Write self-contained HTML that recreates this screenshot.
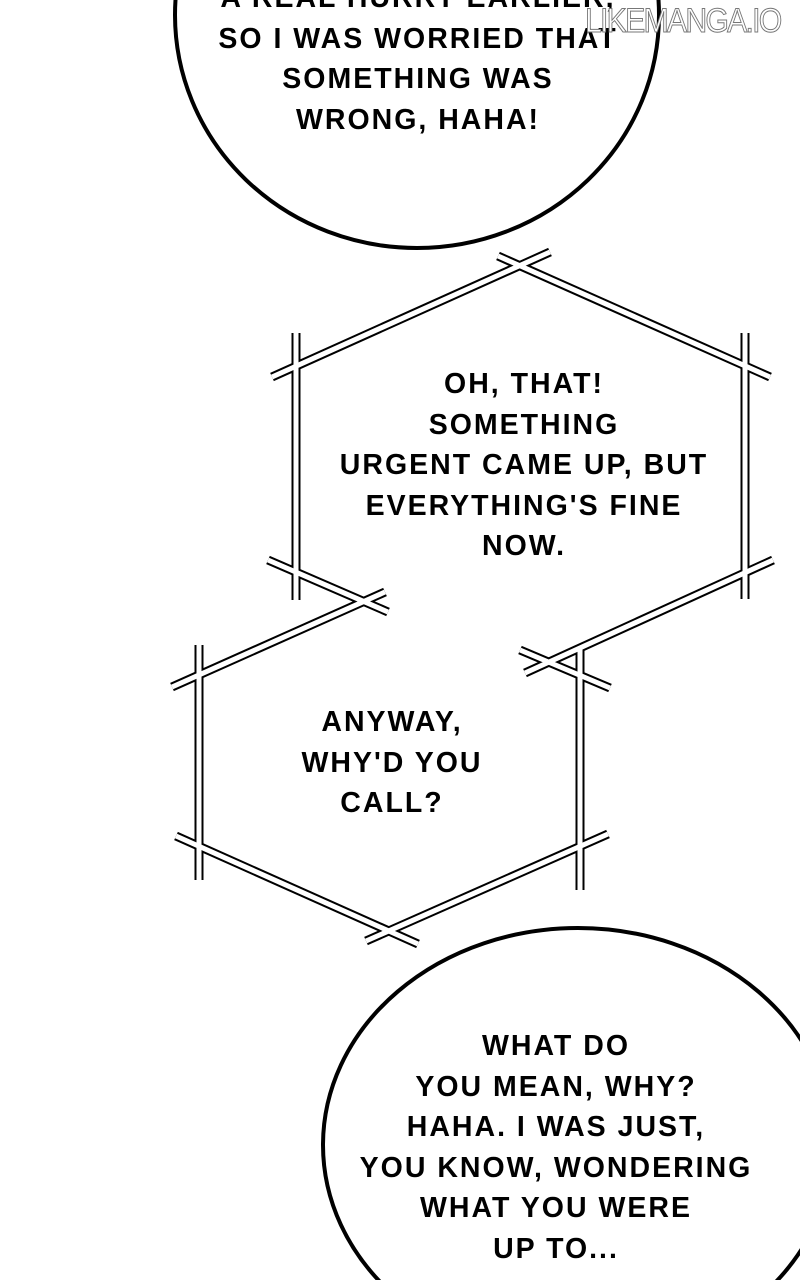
<!DOCTYPE html>
<html><head><style>
html,body{margin:0;width:800px;height:1280px;overflow:hidden}
body{background:#fff;position:relative;font-family:"Liberation Sans",sans-serif}
.t{position:absolute;text-align:center;font-weight:bold;font-size:28.5px;line-height:40.5px;letter-spacing:2px;color:#000;white-space:nowrap;transform:translateX(-50%)}
</style></head><body>
<svg width="800" height="1280" style="position:absolute;left:0;top:0">
<ellipse cx="417" cy="15" rx="242" ry="233" fill="#fff" stroke="#000" stroke-width="4"/>
<ellipse cx="578" cy="1145" rx="255" ry="217" fill="#fff" stroke="#000" stroke-width="4"/>
<g stroke-linecap="butt" fill="none">
<g stroke="#000" stroke-width="9">
<line x1="272" y1="377" x2="550" y2="252"/><line x1="498" y1="256" x2="770" y2="377"/>
<line x1="296" y1="333" x2="296" y2="600"/><line x1="745" y1="333" x2="745" y2="599"/>
<line x1="268" y1="560" x2="388" y2="612"/><line x1="773" y1="560" x2="525" y2="673"/>
<line x1="172" y1="687" x2="385" y2="592"/><line x1="520" y1="650" x2="610" y2="688"/>
<line x1="199" y1="645" x2="199" y2="880"/><line x1="580" y1="648" x2="580" y2="890"/>
<line x1="176" y1="836" x2="418" y2="944"/><line x1="608" y1="834" x2="366" y2="941"/>
</g>
<g stroke="#fff" stroke-width="5">
<line x1="272" y1="377" x2="550" y2="252"/><line x1="498" y1="256" x2="770" y2="377"/>
<line x1="296" y1="333" x2="296" y2="600"/><line x1="745" y1="333" x2="745" y2="599"/>
<line x1="268" y1="560" x2="388" y2="612"/><line x1="773" y1="560" x2="525" y2="673"/>
<line x1="172" y1="687" x2="385" y2="592"/><line x1="520" y1="650" x2="610" y2="688"/>
<line x1="199" y1="645" x2="199" y2="880"/><line x1="580" y1="648" x2="580" y2="890"/>
<line x1="176" y1="836" x2="418" y2="944"/><line x1="608" y1="834" x2="366" y2="941"/>
</g></g>
</svg>
<div class="t" style="left:418px;top:-22px">A REAL HURRY EARLIER,<br>SO I WAS WORRIED THAT<br>SOMETHING WAS<br>WRONG, HAHA!</div>
<div style="position:absolute;left:585px;top:2px;font-family:'Liberation Sans',sans-serif;font-size:34px;color:#fff;-webkit-text-stroke:1px #777;letter-spacing:-2px;transform:scaleX(0.89);transform-origin:left top;white-space:nowrap">LIKEMANGA.IO</div>
<div class="t" style="left:524px;top:364px">OH, THAT!<br>SOMETHING<br>URGENT CAME UP, BUT<br>EVERYTHING'S FINE<br>NOW.</div>
<div class="t" style="left:392px;top:702px">ANYWAY,<br>WHY'D YOU<br>CALL?</div>
<div class="t" style="left:556px;top:1026px">WHAT DO<br>YOU MEAN, WHY?<br>HAHA. I WAS JUST,<br>YOU KNOW, WONDERING<br>WHAT YOU WERE<br>UP TO...</div>
</body></html>
